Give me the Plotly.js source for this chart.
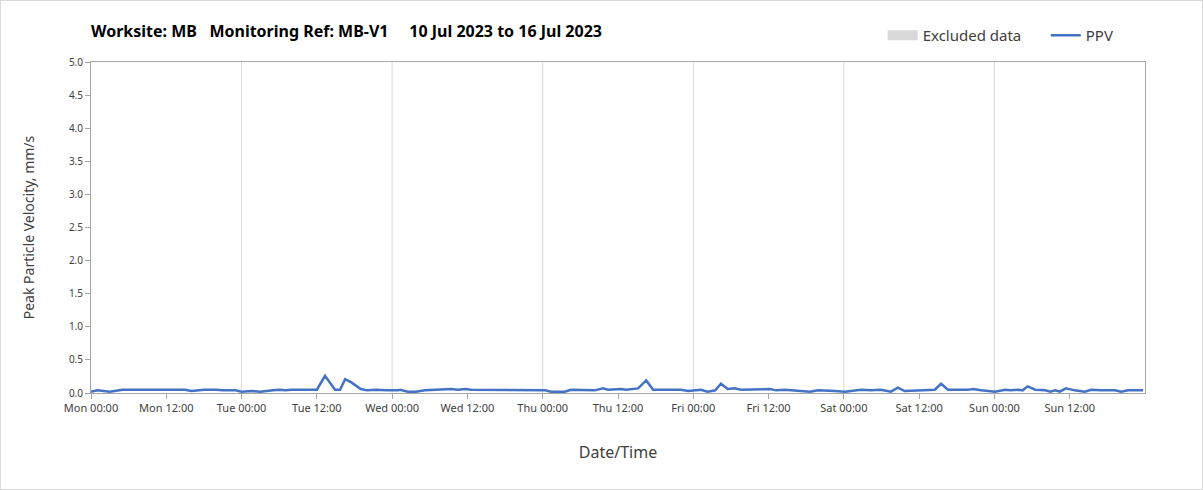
<!DOCTYPE html>
<html>
<head>
<meta charset="utf-8">
<script src="https://cdn.plot.ly/plotly-3.0.1.min.js"></script>
<style>
  html, body { margin: 0; padding: 0; background: #fff; }
  #chart { width: 1201px; height: 488px; border: 1px solid #d9d9d9; }
</style>
</head>
<body>
<div id="chart"></div>
<script>
const times = [
  "2023-07-10 00:00","2023-07-10 01:00","2023-07-10 02:00","2023-07-10 03:00","2023-07-10 05:00",
  "2023-07-10 12:00","2023-07-10 15:00","2023-07-10 16:00","2023-07-10 18:00","2023-07-10 20:00",
  "2023-07-10 21:00","2023-07-10 23:00",
  "2023-07-11 00:00","2023-07-11 01:30","2023-07-11 03:00","2023-07-11 05:00","2023-07-11 06:00",
  "2023-07-11 07:00","2023-07-11 08:00","2023-07-11 12:00","2023-07-11 13:18","2023-07-11 14:54",
  "2023-07-11 15:42","2023-07-11 16:30","2023-07-11 17:30","2023-07-11 19:00","2023-07-11 20:00",
  "2023-07-11 21:30","2023-07-11 23:00",
  "2023-07-12 00:54","2023-07-12 01:18","2023-07-12 02:30","2023-07-12 03:48","2023-07-12 05:12",
  "2023-07-12 07:18","2023-07-12 09:24","2023-07-12 10:30","2023-07-12 11:36","2023-07-12 12:36",
  "2023-07-12 17:30","2023-07-12 18:30","2023-07-12 19:36","2023-07-12 20:30",
  "2023-07-13 00:24","2023-07-13 01:18","2023-07-13 03:30","2023-07-13 04:30","2023-07-13 07:12",
  "2023-07-13 08:18","2023-07-13 09:36","2023-07-13 10:24","2023-07-13 12:30","2023-07-13 13:18",
  "2023-07-13 15:12","2023-07-13 16:30","2023-07-13 17:36","2023-07-13 22:00","2023-07-13 23:12",
  "2023-07-14 00:18","2023-07-14 01:12","2023-07-14 02:18","2023-07-14 03:30","2023-07-14 04:24",
  "2023-07-14 05:30","2023-07-14 06:36","2023-07-14 07:36","2023-07-14 12:12","2023-07-14 13:12",
  "2023-07-14 14:36","2023-07-14 16:42","2023-07-14 18:36","2023-07-14 19:54","2023-07-14 21:30",
  "2023-07-14 22:36",
  "2023-07-15 00:12","2023-07-15 01:48","2023-07-15 02:42","2023-07-15 04:18","2023-07-15 05:54",
  "2023-07-15 07:30","2023-07-15 08:36","2023-07-15 09:42","2023-07-15 11:48","2023-07-15 14:30",
  "2023-07-15 15:30","2023-07-15 16:36","2023-07-15 19:48","2023-07-15 20:36","2023-07-15 21:54",
  "2023-07-16 00:06","2023-07-16 01:42","2023-07-16 02:36","2023-07-16 03:48","2023-07-16 04:30",
  "2023-07-16 05:18","2023-07-16 06:30","2023-07-16 08:06","2023-07-16 08:54","2023-07-16 09:42",
  "2023-07-16 10:24","2023-07-16 11:24","2023-07-16 12:48","2023-07-16 14:24","2023-07-16 15:24",
  "2023-07-16 17:00","2023-07-16 19:12","2023-07-16 20:12","2023-07-16 21:18","2023-07-16 23:42"
];
const ppv = [
  0.02,0.04,0.03,0.02,0.05,
  0.05,0.05,0.03,0.05,0.05,
  0.04,0.04,
  0.02,0.03,0.02,0.04,0.05,
  0.04,0.05,0.05,0.26,0.05,
  0.05,0.21,0.16,0.06,0.04,
  0.05,0.04,
  0.04,0.05,0.02,0.02,0.04,
  0.05,0.06,0.05,0.06,0.05,
  0.05,0.04,0.05,0.04,
  0.04,0.02,0.02,0.05,0.05,
  0.04,0.07,0.05,0.06,0.05,
  0.07,0.19,0.05,0.05,0.03,
  0.04,0.05,0.02,0.04,0.14,
  0.06,0.07,0.05,0.06,0.04,
  0.05,0.04,0.02,0.04,0.04,
  0.03,
  0.02,0.04,0.05,0.04,0.05,
  0.02,0.08,0.03,0.04,0.05,
  0.14,0.05,0.05,0.06,0.04,
  0.02,0.05,0.04,0.05,0.04,
  0.10,0.05,0.04,0.02,0.04,
  0.02,0.07,0.04,0.02,0.05,
  0.04,0.04,0.02,0.04,0.04
];
const xRange = ["2023-07-10 00:00", "2023-07-17 00:00"];
const xTicks = [
  "2023-07-10 00:00","2023-07-10 12:00","2023-07-11 00:00","2023-07-11 12:00",
  "2023-07-12 00:00","2023-07-12 12:00","2023-07-13 00:00","2023-07-13 12:00",
  "2023-07-14 00:00","2023-07-14 12:00","2023-07-15 00:00","2023-07-15 12:00",
  "2023-07-16 00:00","2023-07-16 12:00"
];
const yTicks = [0, 0.5, 1, 1.5, 2, 2.5, 3, 3.5, 4, 4.5, 5];
const dayLines = ["2023-07-11","2023-07-12","2023-07-13","2023-07-14","2023-07-15","2023-07-16"];
const titleText = "Worksite: MB\u00A0\u00A0\u00A0Monitoring Ref: MB-V1\u00A0\u00A0\u00A0\u00A0\u00A010 Jul 2023 to 16 Jul 2023";

const fontFam = "Noto Sans, Open Sans, sans-serif";

const traces = [
  {
    type: "scatter", mode: "lines", name: "Excluded data\u00A0\u00A0\u00A0\u00A0\u00A0", x: [null], y: [null],
    line: { color: "#d9d9d9", width: 10 }, showlegend: true, hoverinfo: "skip"
  },
  {
    type: "scatter", mode: "lines", name: "PPV", x: times, y: ppv,
    line: { color: "#4472C4", width: 2.5 }
  }
];

const layout = {
  width: 1201, height: 488,
  margin: { l: 90, r: 57, t: 61, b: 96, pad: 0 },
  paper_bgcolor: "#ffffff", plot_bgcolor: "#ffffff",
  font: { family: fontFam, color: "#404040" },
  title: {
    text: "<b>" + titleText + "</b>",
    x: 0, xref: "paper", xanchor: "left",
    y: 0.937, yref: "container", yanchor: "middle",
    font: { size: 16, color: "#000000", family: fontFam }
  },
  showlegend: true,
  legend: {
    orientation: "h", x: 0.975, xanchor: "right", y: 1.08, yanchor: "middle",
    font: { size: 15, color: "#404040" }, bgcolor: "rgba(0,0,0,0)",
    traceorder: "normal"
  },
  xaxis: {
    type: "date", range: xRange,
    tickmode: "array", tickvals: xTicks, tickformat: "%a %H:%M",
    ticks: "outside", ticklen: 5, tickcolor: "#a6a6a6",
    tickfont: { size: 11, color: "#404040" },
    showgrid: false, zeroline: false,
    showline: true, linecolor: "#a6a6a6", linewidth: 1, mirror: true,
    title: { text: "Date/Time", font: { size: 16, color: "#404040" }, standoff: 32 }
  },
  yaxis: {
    range: [0, 5], tickvals: yTicks, tickformat: ".1f",
    ticks: "outside", ticklen: 5, tickcolor: "#a6a6a6",
    tickfont: { size: 10, color: "#404040" },
    showgrid: false, zeroline: false,
    showline: true, linecolor: "#a6a6a6", linewidth: 1, mirror: true,
    title: { text: "Peak Particle Velocity, mm/s", font: { size: 14, color: "#404040" }, standoff: 30 }
  },
  shapes: dayLines.map(d => ({
    type: "line", xref: "x", yref: "paper",
    x0: d, x1: d, y0: 0, y1: 1,
    line: { color: "#d9d9d9", width: 1 }, layer: "below"
  }))
};

Plotly.newPlot("chart", traces, layout, { displayModeBar: false, staticPlot: true });
</script>
</body>
</html>
